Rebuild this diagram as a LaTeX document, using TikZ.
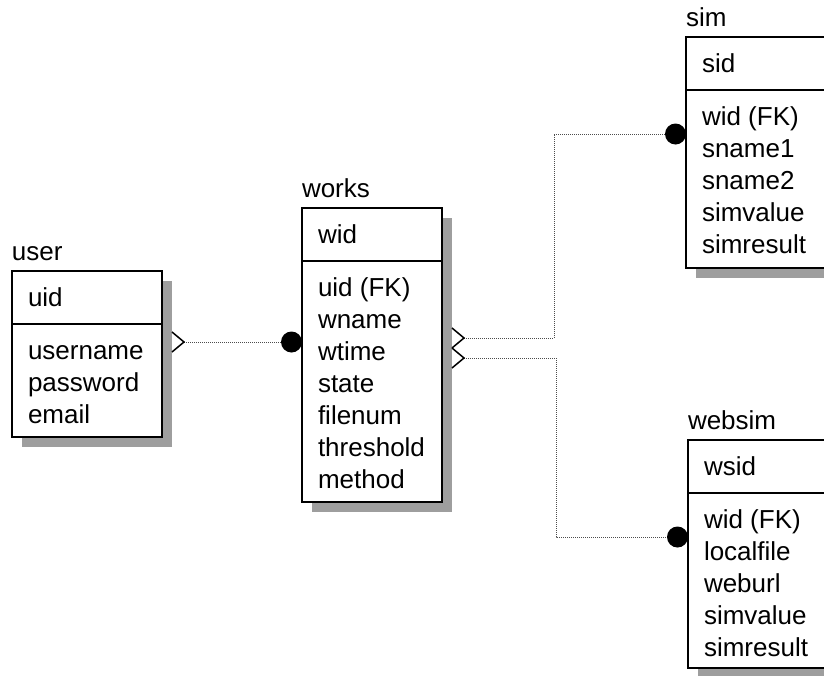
\documentclass[tikz,border=0pt]{standalone}
\usepackage{fontspec}
\setmainfont{Liberation Sans}

% One table of the schema: shadow, frame, title, key row and attribute rows.
% #1 name, #2 title, #3 left, #4 top, #5 width, #6 height, #7 key, #8 attributes
\newcommand{\erentity}[8]{%
  \fill[shadowfill] (#3+10,#4+10) rectangle (#3+#5+10,#4+#6+10);
  \node[entbox, minimum width=#5pt, minimum height=#6pt, anchor=north west] (#1) at (#3,#4) {};
  \draw[line width=1.5pt] ([yshift=-53pt]#1.north west) -- ([yshift=-53pt]#1.north east);
  \node[txt] (#1-title) at ([yshift=11pt]#1.north west) {#2};
  \node[txt] (#1-key) at ([xshift=16pt,yshift=-35pt]#1.north west) {#7};
  \foreach \attr [count=\i] in {#8} {
    \node[txt] (#1-a\i) at ([xshift=16pt,yshift={-88pt-(\i-1)*32pt}]#1.north west) {\attr};
  }%
}

\begin{document}
\begin{tikzpicture}[x=1pt,y=-1pt,
  font=\fontsize{26}{32}\selectfont,
  entbox/.style={draw, line width=1.5pt, fill=white, inner sep=0pt, outer sep=0pt},
  shadowfill/.style={fill=black!38},
  txt/.style={anchor=base west, inner sep=0pt, outer sep=0pt},
  rel/.style={line width=0.8pt, black!70, dash pattern=on 1pt off 1pt},
  crow/.style={line width=1.5pt, line join=miter},
  dotend/.style={circle, fill=black, inner sep=0pt, outer sep=0pt, minimum size=21pt, anchor=east},
]
\useasboundingbox (0,0) rectangle (824,675);
\clip (0,0) rectangle (824,675);

% tables
\erentity{user}{user}{12}{271}{150}{166}{uid}{username,password,email}
\erentity{works}{works}{302}{208}{140}{294}{wid}{uid (FK),wname,wtime,state,filenum,threshold,method}
\erentity{sim}{sim}{686}{37}{140}{231}{sid}{wid (FK),sname1,sname2,simvalue,simresult}
\erentity{websim}{websim}{688}{440}{140}{228}{wsid}{wid (FK),localfile,weburl,simvalue,simresult}

% attachment points of the relationships
\coordinate (ch-u) at (172,342);
\coordinate (ch-s) at (452,338);
\coordinate (ch-w) at (452,358);
\coordinate (k-s) at (554,134);
\coordinate (k-w) at (556,537);

% filled ends on the child tables
\node[dotend] (c-works) at (works.west |- ch-u) {};
\node[dotend] (c-sim) at (sim.west |- k-s) {};
\node[dotend] (c-websim) at (websim.west |- k-w) {};

% relationship lines
\draw[rel] ([xshift=12pt]ch-u) -- (c-works.west);
\draw[rel] ([xshift=12pt]ch-s) -| (k-s) -- (c-sim.west);
\draw[rel] ([xshift=12pt]ch-w) -| (k-w) -- (c-websim.west);

% open ends on the parent tables
\draw[crow] ([yshift=10pt]ch-u) -- ([xshift=12pt]ch-u) -- ([yshift=-10pt]ch-u);
\draw[crow] ([yshift=10pt]ch-s) -- ([xshift=12pt]ch-s) -- ([yshift=-10pt]ch-s);
\draw[crow] ([yshift=10pt]ch-w) -- ([xshift=12pt]ch-w) -- ([yshift=-10pt]ch-w);
\end{tikzpicture}
\end{document}
